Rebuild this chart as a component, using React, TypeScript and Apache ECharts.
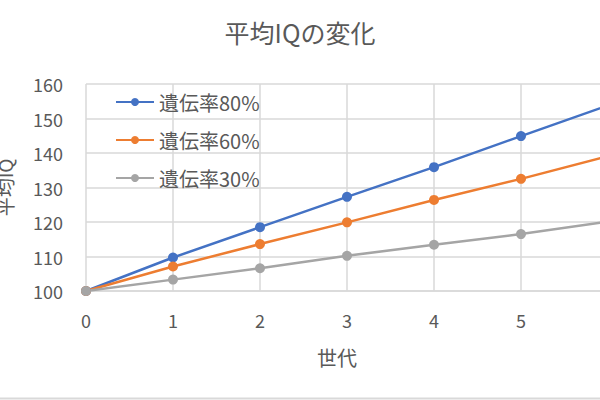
import React, { useEffect, useRef } from "react";
import * as echarts from "echarts";

const generations = ["0", "1", "2", "3", "4", "5", "6"];
const h80 = [100, 109.7, 118.5, 127.3, 135.9, 144.9, 153.8];
const h60 = [100, 107.1, 113.6, 119.9, 126.4, 132.5, 139.1];
const h30 = [100, 103.3, 106.6, 110.2, 113.4, 116.5, 120.1];
const seriesNames = ["遺伝率80%", "遺伝率60%", "遺伝率30%"];
const colors = ["#4472C4", "#ED7D31", "#A5A5A5"];

const FONT = "'Noto Sans CJK JP', 'Noto Sans', sans-serif";
const TEXT = "#595959";

export default function App() {
  const ref = useRef<HTMLDivElement>(null);
  useEffect(() => {
    if (!ref.current) return;
    const chart = echarts.init(ref.current, null, { renderer: "svg" });
    const mk = (name: string, data: number[], color: string) => ({
      name,
      type: "line",
      data,
      symbol: "circle",
      symbolSize: 10,
      lineStyle: { width: 2.5, color },
      itemStyle: { color },
      clip: true,
    });
    chart.setOption({
      animation: false,
      backgroundColor: "#ffffff",
      textStyle: { fontFamily: FONT },
      title: {
        text: "平均IQの変化",
        left: "center",
        top: 14,
        textStyle: { fontFamily: FONT, fontSize: 25, fontWeight: "normal", color: TEXT },
      },
      legend: {
        orient: "vertical",
        left: 115,
        top: 92,
        padding: 0,
        itemWidth: 38,
        itemHeight: 10,
        itemGap: 18,
        textStyle: { fontFamily: FONT, fontSize: 20, color: TEXT },
        data: seriesNames,
      },
      grid: {
        left: 86,
        top: 84,
        width: 522,
        height: 207,
        containLabel: false,
        outerBoundsMode: "none",
      },
      xAxis: {
        type: "category",
        data: generations,
        boundaryGap: false,
        name: "世代",
        nameLocation: "middle",
        nameGap: 56,
        nameTextStyle: { fontFamily: FONT, fontSize: 20, color: TEXT, padding: [0, 20, 0, 0] },
        axisLine: { lineStyle: { color: "#d9d9d9", width: 1.5 } },
        axisTick: { show: false },
        axisLabel: { fontFamily: FONT, fontSize: 18, color: TEXT, margin: 20, showMaxLabel: false },
        splitLine: { show: true, lineStyle: { color: "#d9d9d9", width: 1.5 } },
      },
      yAxis: {
        type: "value",
        min: 100,
        max: 160,
        interval: 10,
        name: "平均IQ",
        nameLocation: "middle",
        nameRotate: 90,
        nameGap: 72,
        nameTextStyle: { fontFamily: FONT, fontSize: 19, color: TEXT },
        axisLine: { show: false },
        axisTick: { show: false },
        axisLabel: { fontFamily: FONT, fontSize: 18, color: TEXT, margin: 23 },
        splitLine: { lineStyle: { color: "#d9d9d9", width: 1.5 } },
      },
      graphic: [
        {
          type: "line",
          shape: { x1: 0, y1: 398.5, x2: 600, y2: 398.5 },
          style: { stroke: "#d9d9d9", lineWidth: 2 },
        },
      ],
      series: [
        mk(seriesNames[0], h80, colors[0]),
        mk(seriesNames[1], h60, colors[1]),
        mk(seriesNames[2], h30, colors[2]),
      ],
    });
    return () => chart.dispose();
  }, []);
  return (
    <div
      ref={ref}
      style={{ position: "absolute", left: 0, top: 0, width: 600, height: 400, overflow: "hidden" }}
    />
  );
}
